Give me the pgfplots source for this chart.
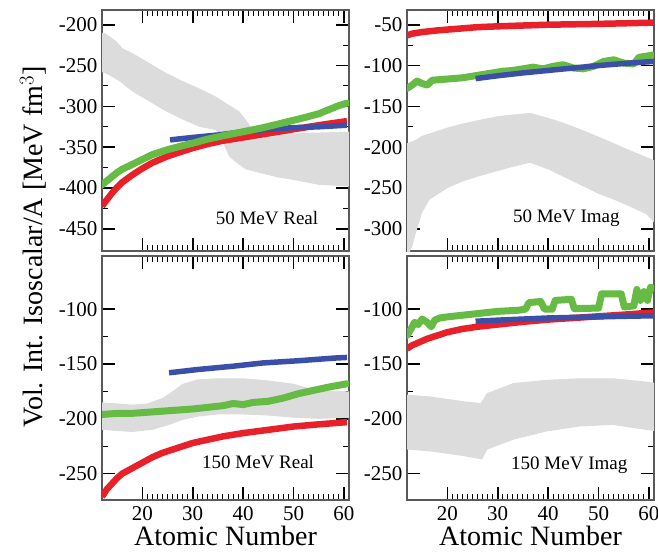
\documentclass[border=0pt]{standalone}
\usepackage{pgfplots}
\pgfplotsset{compat=1.18}
\usepackage{fontspec}
\setmainfont{Liberation Serif}
\definecolor{cred}{HTML}{E8202A}
\definecolor{cblue}{HTML}{3B4FA8}
\definecolor{cgreen}{HTML}{66BB44}
\definecolor{cgray}{HTML}{DCDCDC}
\tikzset{
  plab/.style={font=\fontsize{19}{22}\selectfont},
  xlab/.style={font=\fontsize{28}{32}\selectfont, yshift=1pt},
}
\pgfplotsset{
  panel/.style={
    scale only axis, width=247pt, xmin=12, xmax=61,
    xtick={20,30,40,50,60}, minor x tick num=9, minor y tick num=1,
    tick align=inside, major tick length=13pt, minor tick length=6pt,
    axis line style={draw=black!65, line width=1.3pt},
    major tick style={black, line width=1.6pt},
    minor tick style={black, line width=1pt},
    every tick label/.append style={font=\fontsize{21}{24}\selectfont},
    yticklabel style={xshift=-1pt},
    xticklabel style={yshift=-3pt},
    /pgf/number format/assume math mode=true,
    scaled ticks=false,
  },
  band/.style={fill=cgray, draw=none},
  rl/.style={cred, line width=6.5pt, line cap=butt},
  bl/.style={cblue, line width=5.5pt, line cap=butt},
  gl/.style={cgreen, line width=7pt, line cap=round, line join=round},
}
\begin{document}
\begin{tikzpicture}
\useasboundingbox (0pt,0pt) rectangle (658pt,552pt);
% top-left: 50 MeV Real
\begin{axis}[panel, at={(102pt,542pt)}, anchor=north west, height=241pt,
  ymin=-477, ymax=-182, ytick={-450,-400,-350,-300,-250,-200}, xticklabels={}]
\addplot[band] coordinates {(12,-210) (12.5,-210) (14.8,-220) (16.1,-229) (18.1,-235) (21.4,-247) (24.7,-259) (28,-269) (31.3,-278) (34.6,-288) (36.6,-296) (39.2,-306) (40.5,-316) (41.5,-325) (43,-331) (50,-333) (55,-332) (61,-331)
 (61,-398) (55,-396) (50,-390) (47,-387) (43,-381) (40.5,-377) (38.5,-368) (37.2,-361) (36,-345) (34.6,-329) (31.3,-325) (28,-316) (24.7,-306) (21.4,-294) (18.1,-282) (15.4,-269) (13.5,-262) (12,-258)} -- cycle;
\addplot[rl] coordinates {(12,-422) (13,-414) (14,-406) (15,-399) (16,-393) (18,-384) (20,-376) (22,-369) (25,-361) (28,-355) (30,-351) (33,-346) (36,-342) (40,-338) (45,-333) (50,-328) (55,-323) (60.6,-318)};
\addplot[bl] coordinates {(25.5,-341) (30,-338) (35,-335) (40,-331) (45,-328) (50,-326) (55,-325) (60.6,-323)};
\addplot[gl] coordinates {(12,-396) (13,-391) (14,-386) (15,-381) (16,-377) (18,-371) (20,-365) (22,-359) (25,-353) (28,-348) (30,-345) (33,-340) (36,-336) (40,-331) (44,-326) (48,-320) (52,-314) (55,-309) (57,-304) (59,-299) (60.6,-296)};
\node[plab] at (rel axis cs:0.668,0.137) {50 MeV Real};
\end{axis}
% top-right: 50 MeV Imag
\begin{axis}[panel, at={(407pt,542pt)}, anchor=north west, height=241pt,
  ymin=-327, ymax=-32, ytick={-300,-250,-200,-150,-100,-50}, xticklabels={}]
\addplot[band] coordinates {(12,-195) (13,-193) (14,-190) (15,-186) (16.5,-183) (20,-176) (23,-171) (26,-167) (30,-162) (33,-160) (36.4,-158) (40,-164) (43,-170) (46,-177) (50,-187) (53,-195) (56,-203) (59.5,-212) (61,-216)
 (61,-292) (59.5,-282) (56,-272) (53,-264) (50,-257) (46,-245) (43,-236) (40,-227) (36.4,-219) (33,-224) (30,-229) (26,-236) (23,-242) (20,-250) (16.5,-264) (15,-280) (14,-300) (13,-322) (12,-335)} -- cycle;
\addplot[rl] coordinates {(12,-63) (13,-61) (15,-59) (18,-57) (22,-55) (26,-53) (30,-52) (35,-51) (40,-50) (50,-49) (60.8,-47.5)};
\addplot[gl] coordinates {(12,-128) (13,-124) (14,-119) (15,-122) (16,-124) (17,-118) (19,-117) (21,-116) (23,-115) (25,-113) (27,-111) (29,-109) (31,-107) (33,-106) (35,-104) (37,-102) (39,-104) (41,-101) (43,-99) (45,-103) (47,-104) (49,-101) (51,-95) (53,-93) (55,-97) (57,-98) (58,-90) (60,-88) (60.8,-87)};
\addplot[bl] coordinates {(25.6,-116) (30,-112.5) (35,-109) (40,-106) (45,-103) (50,-100) (55,-97.5) (60.8,-95)};
\node[plab] at (rel axis cs:0.645,0.137) {50 MeV Imag};
\end{axis}
% bottom-left: 150 MeV Real
\begin{axis}[panel, at={(102pt,296pt)}, anchor=north west, height=244pt,
  ymin=-274, ymax=-51.5, ytick={-250,-200,-150,-100},
  xlabel={Atomic Number}, xlabel style={xlab}]
\addplot[band] coordinates {(12,-185) (15,-186) (18,-187) (21,-186) (24,-181) (26,-175) (28,-168) (31,-164) (35,-163) (40,-163) (45,-165) (50,-168) (53,-172) (57,-174) (61,-175)
 (61,-199) (55,-200) (50,-199) (45,-197) (40,-196) (35,-196) (31,-198) (28,-201) (25,-206) (22,-210) (18,-212) (12,-210)} -- cycle;
\addplot[rl] coordinates {(12,-271) (13,-264) (14,-259) (15,-254) (16,-250) (18,-245) (20,-240) (22,-235) (24,-231) (26,-228) (28,-225) (30,-222) (33,-219) (36,-216) (40,-213) (45,-210) (50,-207) (55,-205) (60.6,-203)};
\addplot[bl] coordinates {(25.3,-158) (31,-155) (38,-152) (44,-149) (51,-147) (58,-144.6) (60.6,-144)};
\addplot[gl] coordinates {(12,-196) (15,-195) (18,-195) (21,-194) (24,-193) (27,-192) (30,-191) (33,-189.5) (36,-188) (38,-186) (40,-187) (42,-185) (45,-184) (48,-181) (51,-177) (54,-174) (57,-171) (60.6,-168)};
\node[plab] at (rel axis cs:0.632,0.156) {150 MeV Real};
\end{axis}
% bottom-right: 150 MeV Imag
\begin{axis}[panel, at={(407pt,296pt)}, anchor=north west, height=244pt,
  ymin=-274, ymax=-51.5, ytick={-250,-200,-150,-100},
  xlabel={Atomic Number}, xlabel style={xlab}]
\addplot[band] coordinates {(12,-178) (16.7,-179.6) (23.3,-184) (26.6,-185.6) (27.9,-176.5) (33.1,-167.4) (39.7,-164.4) (46.2,-163) (52.8,-163) (59.3,-166) (61,-167)
 (61,-211) (59.3,-210) (52.8,-205.5) (46.2,-207) (39.7,-211.5) (33.1,-219) (27.9,-228) (26.9,-237) (23.3,-234) (16.7,-229.7) (12,-228)} -- cycle;
\addplot[rl] coordinates {(12,-136) (13,-133) (14,-131) (16,-127) (18,-124) (20,-121) (23,-118) (26,-116) (30,-114) (35,-111.5) (40,-109.5) (45,-108) (50,-106.5) (55,-105) (60.8,-103)};
\addplot[bl] coordinates {(25.6,-111) (30,-110) (35,-109) (40,-108) (45,-107.5) (50,-107) (55,-106.5) (60.8,-106)};
\addplot[gl] coordinates {(12,-124) (12.8,-118) (13.5,-112) (14.2,-114) (15,-109) (16,-112) (16.8,-116) (17.5,-110) (18.5,-108) (20,-107) (22,-106) (24,-105) (26,-104) (28,-103) (30,-102) (32,-101.5) (34,-101) (35.5,-100) (36.2,-94) (38.5,-93) (39.3,-100) (40.8,-100) (41.4,-92) (44.6,-91) (45.2,-99.5) (50,-99) (50.6,-86) (54.5,-86) (55.1,-98) (57,-97) (57.6,-82) (58.3,-92) (59,-84) (59.7,-92) (60.3,-80) (60.8,-81)};
\node[plab] at (rel axis cs:0.657,0.143) {150 MeV Imag};
\end{axis}
\node[rotate=90, font=\fontsize{28}{32}\selectfont] at (33pt,305pt) {Vol. Int. Isoscalar/A [MeV fm$^3$]};
\end{tikzpicture}
\end{document}
